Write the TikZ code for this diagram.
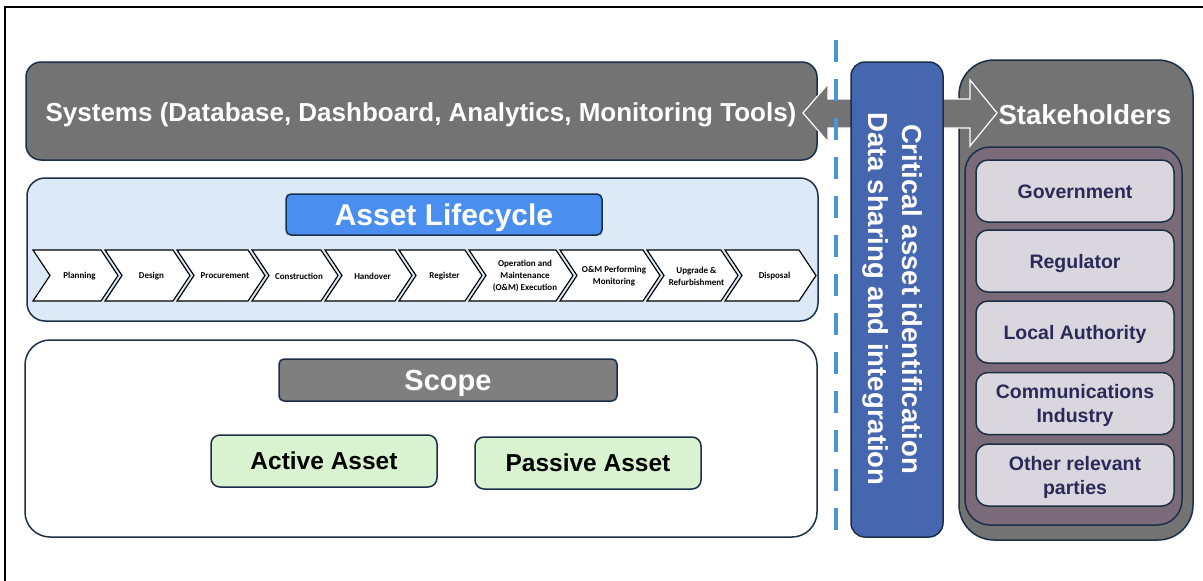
\documentclass[tikz,border=0pt]{standalone}
\usepackage{fontspec}
\setmainfont{Liberation Sans}
\newfontfamily\chevfont{Carlito}
\usetikzlibrary{calc}

\definecolor{panelgray}{HTML}{737373}
\definecolor{scopegray}{HTML}{7F7F7F}
\definecolor{edgenavy}{HTML}{1C2F48}
\definecolor{lifeblue}{HTML}{DCE9F6}
\definecolor{headblue}{HTML}{4A8EF0}
\definecolor{assetgreen}{HTML}{D9F2D0}
\definecolor{sharebox}{HTML}{4666B0}
\definecolor{dashblue}{HTML}{4A94DA}
\definecolor{mauve}{HTML}{7A6A7A}
\definecolor{itemfill}{HTML}{DAD6DD}
\definecolor{itemtext}{HTML}{2A2A58}

\tikzset{
  panel/.style={draw=edgenavy, line width=1.5pt, rounded corners=#1},
  panel/.default=15pt,
  headtext/.style={font=\fontsize{#1}{#1}\selectfont\bfseries, text=white},
  itembox/.style={panel=12pt, fill=itemfill, minimum width=198pt, minimum height=62pt,
    align=center, text=itemtext, font=\fontsize{19.5}{24}\selectfont\bfseries},
  assetbox/.style={panel=9pt, fill=assetgreen, minimum width=226pt, minimum height=52pt,
    font=\fontsize{24.5}{24.5}\selectfont\bfseries},
  chevlabel/.style={font=\chevfont\fontsize{9}{12}\selectfont\bfseries, align=center},
}

\begin{document}
\begin{tikzpicture}[x=1pt, y=-1pt]
\useasboundingbox (0,0) rectangle (1203,581);
\fill[white] (0,0) rectangle (1203,581);

% frame
\draw[line width=2pt] (5,581) -- (5,7) -- (1203,7);

% systems panel
\draw[panel, fill=panelgray] (26,62) rectangle (817,160);
\node[headtext=26] (systems) at (421,115) {Systems (Database, Dashboard, Analytics, Monitoring Tools)};

% lifecycle panel
\draw[panel=18pt, fill=lifeblue] (27,178) rectangle (818,321);
\node[panel=5pt, fill=headblue, minimum width=316pt, minimum height=41pt,
      font=\fontsize{30}{30}\selectfont\bfseries, text=white] (lifecycle) at (444,214.5) {};
\node[headtext=30] (lifetitle) at (444,217.5) {Asset Lifecycle};

% lifecycle chevrons: left edge, tip, label
\def\chevtop{250}\def\chevbot{301}\def\chevmid{275.5}\def\chevd{17}
\foreach \L/\T/\lab [count=\i] in {
  33/118/Planning,
  105/190/Design,
  177/265/Procurement,
  252/338/Construction,
  325/412/Handover,
  399/482/Register,
  469/573/{Operation and\\Maintenance\\(O\&M) Execution},
  560/660/{O\&M Performing\\Monitoring},
  647/738/{Upgrade \&\\Refurbishment},
  725/816/Disposal}
{
  \draw[line width=1.2pt, fill=white, line join=miter]
    (\L,\chevtop) -- ({\T-\chevd},\chevtop) -- (\T,\chevmid) -- ({\T-\chevd},\chevbot)
    -- (\L,\chevbot) -- ({\L+\chevd},\chevmid) -- cycle;
  \node[chevlabel] (chev\i) at ({(\L+\T)/2+4},\chevmid+0.5) {\lab};
}

% scope panel
\draw[panel=25pt, fill=white] (25,340) rectangle (817,537);
\node[panel=5pt, fill=scopegray, minimum width=338pt, minimum height=42pt] (scope) at (448,380) {};
\node[headtext=29] (scopetitle) at (448,383.5) {Scope};
\node[assetbox] (active) at (324,461) {Active Asset};
\node[assetbox] (passive) at (588,463) {Passive Asset};

% stakeholders panel
\draw[panel=35pt, draw=edgenavy, fill=panelgray] (959,60) rectangle (1193,540);
\node[headtext=27.5] (stake) at (1085,115) {Stakeholders};
\draw[panel=25pt, fill=mauve] (965,147) rectangle (1182,525);
\node[itembox] (gov) at (1075,191) {};
\node[itembox] (reg) at (1075,261) {};
\node[itembox] (local) at (1075,332) {};
\node[itembox] (comm) at (1075,403.5) {};
\node[itembox] (other) at (1075,475) {};
\node[itembox, draw=none, fill=none] at ([yshift=-1pt]gov) {Government};
\node[itembox, draw=none, fill=none] at ([yshift=-2pt]reg) {Regulator};
\node[itembox, draw=none, fill=none] at ([yshift=-2pt]local) {Local Authority};
\node[itembox, draw=none, fill=none] at ([yshift=-2pt]comm) {Communications\\Industry};
\node[itembox, draw=none, fill=none] at ([yshift=-2pt]other) {Other relevant\\parties};

% two-way block arrow between systems and stakeholders
\coordinate (lefttip) at (803,113);
\coordinate (righttip) at (997,113);
\draw[fill=panelgray, draw=white, line width=1.2pt, line join=miter]
  (lefttip) -- (828,84) -- (828,99) -- (970,99) -- (970,80) -- (righttip)
  -- (970,146) -- (970,128) -- (828,128) -- (828,142) -- cycle;

% divider
\coordinate (divtop) at (836,40);
\coordinate (divbot) at (836,540);
\draw[dashblue, line width=4pt, dash pattern=on 22pt off 17pt] (divtop) -- (divbot);

% data sharing bar
\draw[panel=14pt, fill=sharebox] (851,62) rectangle (943,537);
\node[rotate=-90, align=center, text=white,
      font=\fontsize{27.5}{34}\selectfont\bfseries]
  (share) at (893,299) {Critical asset identification\\Data sharing and integration};

\end{tikzpicture}
\end{document}
